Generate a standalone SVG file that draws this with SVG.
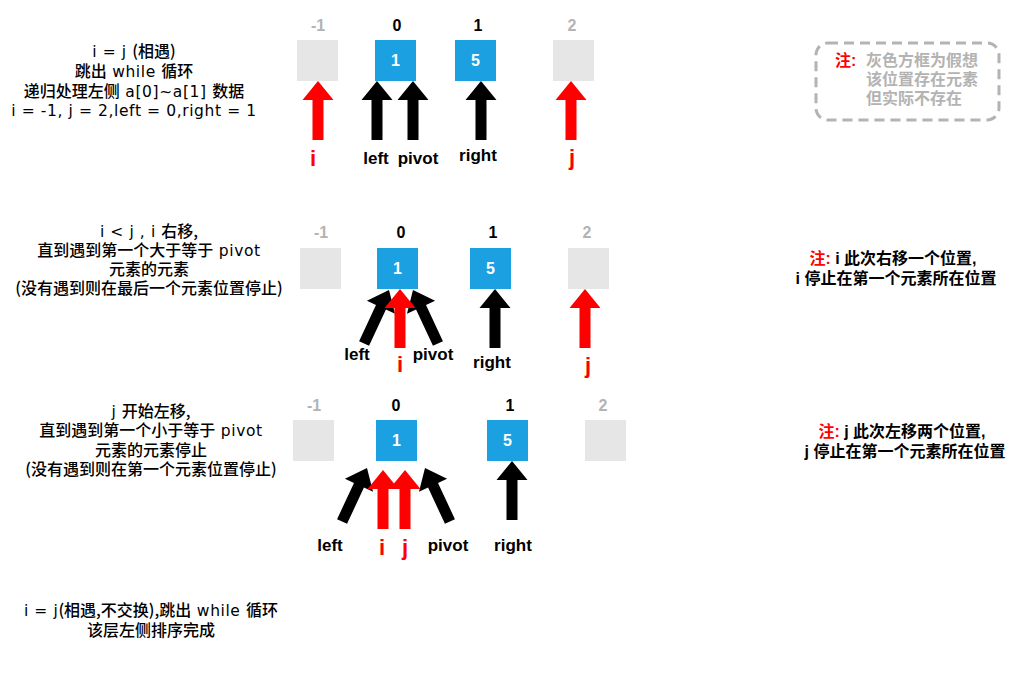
<svg xmlns="http://www.w3.org/2000/svg" xmlns:xlink="http://www.w3.org/1999/xlink" width="1016" height="678" viewBox="0 0 1016 678">
  <style>
    .desc { font-family: "Noto Sans CJK SC", sans-serif; font-size: 16px; font-weight: 500; fill: #000; text-anchor: middle; }
    .lat { font-family: "DejaVu Sans", sans-serif; font-size: 15.5px; letter-spacing: 0.6px; font-weight: normal; }
    .idx { font-family: "Liberation Sans", Arial, sans-serif; font-size: 16px; font-weight: bold; text-anchor: middle; }
    .idx.real { fill: #000; }
    .idx.ghost { fill: #b3b3b3; }
    .cell { fill: #1ba1e2; }
    .void { fill: #e6e6e6; }
    .val { font-family: "Liberation Sans", Arial, sans-serif; font-size: 16px; font-weight: bold; fill: #fff; text-anchor: middle; }
    .lbl { font-family: "Liberation Sans", Arial, sans-serif; font-size: 17px; font-weight: bold; fill: #000; text-anchor: middle; }
    .ptr { font-family: "Liberation Sans", Arial, sans-serif; font-size: 22px; font-weight: bold; fill: #ff0000; text-anchor: middle; }
    .blk { fill: #000; }
    .red { fill: #ff0000; }
    .note { font-family: "Liberation Sans", "Noto Sans CJK SC", sans-serif; font-size: 16px; font-weight: bold; fill: #000; }
    .mark { fill: #ff0000; }
    .dim { fill: #b3b3b3; }
  </style>
  <defs>
    <!-- upward block arrow, tip at origin -->
    <path id="arw" d="M0,0 L15.5,19 L5.5,19 L5.5,59 L-5.5,59 L-5.5,19 L-15.5,19 Z"/>
  </defs>
  <rect width="1016" height="678" fill="#fff"/>

  <!-- ===== step 1 ===== -->
  <g id="step1-text">
    <text class="desc" x="134" y="57"><tspan class="lat">i = j </tspan>(相遇)</text>
    <text class="desc" x="134" y="77">跳出<tspan class="lat"> while </tspan>循环</text>
    <text class="desc" x="134" y="97">递归处理左侧<tspan class="lat"> a[0]~a[1] </tspan>数据</text>
    <text class="desc" x="134" y="116"><tspan class="lat">i = -1, j = 2,left = 0,right = 1</tspan></text>
  </g>
  <g id="s1-cell-m1"><text class="idx ghost" x="318" y="31">-1</text><rect class="void" x="297" y="40" width="41" height="41"/></g>
  <g id="s1-cell-0"><text class="idx real" x="397" y="31">0</text><rect class="cell" x="375" y="40" width="41" height="41"/><text class="val" x="395.5" y="66">1</text></g>
  <g id="s1-cell-1"><text class="idx real" x="478" y="31">1</text><rect class="cell" x="455" y="40" width="41" height="41"/><text class="val" x="475.5" y="66">5</text></g>
  <g id="s1-cell-2"><text class="idx ghost" x="572" y="31">2</text><rect class="void" x="553" y="40" width="41" height="41"/></g>
  <g id="s1-pointers">
    <use xlink:href="#arw" class="red" transform="translate(318,81)"/>
    <use xlink:href="#arw" class="blk" transform="translate(377,81)"/>
    <use xlink:href="#arw" class="blk" transform="translate(413,81)"/>
    <use xlink:href="#arw" class="blk" transform="translate(481,81)"/>
    <use xlink:href="#arw" class="red" transform="translate(571,81)"/>
    <text class="ptr" x="313" y="166">i</text>
    <text class="lbl" x="376" y="164">left</text>
    <text class="lbl" x="418" y="164">pivot</text>
    <text class="lbl" x="478" y="161">right</text>
    <text class="ptr" x="572" y="165">j</text>
  </g>
  <g id="legend">
    <rect x="816" y="43" width="183" height="77" rx="12" ry="12" fill="none" stroke="#b3b3b3" stroke-width="3" stroke-dasharray="10 6"/>
    <text class="note mark" x="835" y="66">注:</text>
    <text class="note dim" x="866" y="66">灰色方框为假想</text>
    <text class="note dim" x="866" y="85">该位置存在元素</text>
    <text class="note dim" x="866" y="104">但实际不存在</text>
  </g>

  <!-- ===== step 2 ===== -->
  <g id="step2-text">
    <text class="desc" x="149" y="237"><tspan class="lat">i &lt; j , i </tspan>右移,</text>
    <text class="desc" x="149" y="256">直到遇到第一个大于等于<tspan class="lat"> pivot</tspan></text>
    <text class="desc" x="149" y="275">元素的元素</text>
    <text class="desc" x="149" y="294">(没有遇到则在最后一个元素位置停止)</text>
  </g>
  <g id="s2-cell-m1"><text class="idx ghost" x="321" y="238">-1</text><rect class="void" x="300" y="248" width="41" height="41"/></g>
  <g id="s2-cell-0"><text class="idx real" x="401" y="238">0</text><rect class="cell" x="377" y="248" width="41" height="41"/><text class="val" x="397.5" y="274">1</text></g>
  <g id="s2-cell-1"><text class="idx real" x="493" y="238">1</text><rect class="cell" x="470" y="248" width="41" height="41"/><text class="val" x="490.5" y="274">5</text></g>
  <g id="s2-cell-2"><text class="idx ghost" x="587" y="238">2</text><rect class="void" x="568" y="248" width="41" height="41"/></g>
  <g id="s2-pointers">
    <use xlink:href="#arw" class="blk" transform="translate(389,290) rotate(25)"/>
    <use xlink:href="#arw" class="blk" transform="translate(413,290) rotate(-25)"/>
    <use xlink:href="#arw" class="red" transform="translate(400,289)"/>
    <use xlink:href="#arw" class="blk" transform="translate(495,289)"/>
    <use xlink:href="#arw" class="red" transform="translate(585,289)"/>
    <text class="lbl" x="357" y="360">left</text>
    <text class="ptr" x="400" y="372">i</text>
    <text class="lbl" x="433" y="360">pivot</text>
    <text class="lbl" x="492" y="368">right</text>
    <text class="ptr" x="588" y="373">j</text>
  </g>
  <g id="note2">
    <text class="note" x="893" y="264" text-anchor="middle"><tspan class="mark">注:</tspan> i 此次右移一个位置,</text>
    <text class="note" x="896" y="284" text-anchor="middle">i 停止在第一个元素所在位置</text>
  </g>

  <!-- ===== step 3 ===== -->
  <g id="step3-text">
    <text class="desc" x="151" y="417"><tspan class="lat">j </tspan>开始左移,</text>
    <text class="desc" x="151" y="436">直到遇到第一个小于等于<tspan class="lat"> pivot</tspan></text>
    <text class="desc" x="151" y="456">元素的元素停止</text>
    <text class="desc" x="151" y="475">(没有遇到则在第一个元素位置停止)</text>
  </g>
  <g id="s3-cell-m1"><text class="idx ghost" x="314" y="411">-1</text><rect class="void" x="293" y="420" width="41" height="41"/></g>
  <g id="s3-cell-0"><text class="idx real" x="396" y="411">0</text><rect class="cell" x="376" y="420" width="41" height="41"/><text class="val" x="396.5" y="446">1</text></g>
  <g id="s3-cell-1"><text class="idx real" x="510" y="411">1</text><rect class="cell" x="487" y="420" width="41" height="41"/><text class="val" x="507.5" y="446">5</text></g>
  <g id="s3-cell-2"><text class="idx ghost" x="603" y="411">2</text><rect class="void" x="585" y="420" width="41" height="41"/></g>
  <g id="s3-pointers">
    <use xlink:href="#arw" class="blk" transform="translate(367,468) rotate(25)"/>
    <use xlink:href="#arw" class="blk" transform="translate(425,468) rotate(-25)"/>
    <use xlink:href="#arw" class="red" transform="translate(383,470)"/>
    <use xlink:href="#arw" class="red" transform="translate(405,470)"/>
    <use xlink:href="#arw" class="blk" transform="translate(512,461)"/>
    <text class="lbl" x="330" y="551">left</text>
    <text class="ptr" x="382" y="555">i</text>
    <text class="ptr" x="405" y="555">j</text>
    <text class="lbl" x="448" y="551">pivot</text>
    <text class="lbl" x="513" y="551">right</text>
  </g>
  <g id="note3">
    <text class="note" x="902" y="437" text-anchor="middle"><tspan class="mark">注:</tspan> j 此次左移两个位置,</text>
    <text class="note" x="905" y="457" text-anchor="middle">j 停止在第一个元素所在位置</text>
  </g>

  <!-- ===== result ===== -->
  <g id="result-text">
    <text class="desc" x="151" y="616"><tspan class="lat">i = j</tspan>(相遇,不交换),跳出<tspan class="lat"> while </tspan>循环</text>
    <text class="desc" x="151" y="636">该层左侧排序完成</text>
  </g>
</svg>
